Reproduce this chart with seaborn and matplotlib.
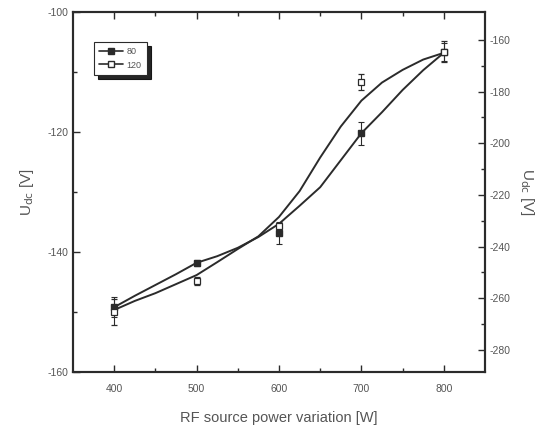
import numpy as np
import pandas as pd
import seaborn as sns
import matplotlib.pyplot as plt
from matplotlib.lines import Line2D

sns.set_theme(style="ticks")
plt.rcParams['font.family'] = ['Liberation Sans', 'DejaVu Sans']
plt.rcParams['axes.unicode_minus'] = False

# measured points
power = [400, 500, 600, 700, 800]
u80 = [-149.2, -141.8, -136.8, -120.2, -106.7]
u80_err = [1.7, 0.5, 1.8, 1.9, 1.5]
u120 = [-265.3, -253.3, -232.0, -176.3, -164.6]
u120_err = [5.0, 1.5, 1.0, 3.1, 4.0]

# fitted curves (every 25 W)
fit_power = [400, 425, 450, 475, 500, 525, 550, 575, 600,
             625, 650, 675, 700, 725, 750, 775, 800]
fit80 = [-149.2, -147.3, -145.5, -143.7, -141.8, -140.7, -139.3, -137.5,
         -135.3, -132.3, -129.2, -124.7, -120.2, -116.7, -113.0, -109.7,
         -106.8]
fit120 = [-264.5, -261.0, -258.0, -254.5, -251.0, -246.0, -240.9, -236.0,
          -228.5, -218.5, -205.5, -193.5, -183.5, -176.5, -171.6, -167.6,
          -165.0]

df_fit = pd.DataFrame({"power": fit_power, "fit80": fit80, "fit120": fit120})

ink = "#2b2b2b"
txt = "#555555"

fig = plt.figure(figsize=(5.42, 4.29), dpi=100)
ax = fig.add_axes([0.1347, 0.1329, 0.7601, 0.8391])
ax2 = ax.twinx()

sns.lineplot(data=df_fit, x="power", y="fit80", ax=ax, color=ink, lw=1.4)
sns.lineplot(data=df_fit, x="power", y="fit120", ax=ax2, color=ink, lw=1.4)

ax.errorbar(power, u80, yerr=u80_err, fmt="s", ms=4.5, color=ink,
            mfc=ink, capsize=2.5, elinewidth=0.8, capthick=0.8, zorder=5)
ax2.errorbar(power, u120, yerr=u120_err, fmt="s", ms=4.5, color=ink,
             mfc="white", mew=0.9, capsize=2.5, elinewidth=0.8,
             capthick=0.8, zorder=5)

ax.set_xlim(350, 850)
ax.set_ylim(-160, -100)
ax2.set_ylim(-288.5, -149.2)
ax.set_xticks([400, 500, 600, 700, 800])
ax.set_xticks([450, 550, 650, 750], minor=True)
ax.set_yticks([-160, -140, -120, -100])
ax.set_yticks([-150, -130, -110], minor=True)
ax2.set_yticks([-280, -260, -240, -220, -200, -180, -160])
ax2.set_yticks(np.arange(-270, -150, 20), minor=True)

for a in (ax, ax2):
    for s in a.spines.values():
        s.set_color(ink)
        s.set_linewidth(1.5)
    a.tick_params(which="both", direction="in", color=ink, labelcolor=txt,
                  labelsize=7.5, width=1.0)
    a.tick_params(which="major", length=5)
    a.tick_params(which="minor", length=3)
ax.tick_params(which="both", top=True)
ax.tick_params(axis="x", pad=9)

ax.set_xlabel("RF source power variation [W]", fontsize=10.5, color=txt,
              labelpad=12)
ax.set_ylabel(r"U$_{\rm dc}$ [V]", fontsize=11, color=txt, labelpad=8)
ax2.set_ylabel(r"U$_{\rm dc}$ [V]", fontsize=11, color=txt, rotation=270,
               labelpad=18)

handles = [
    Line2D([], [], color=ink, marker="s", ms=4, mfc=ink, lw=1.2),
    Line2D([], [], color=ink, marker="s", ms=4, mfc="white", lw=1.2),
]
leg = ax.legend(handles, ["80", "120"], loc="upper left",
                bbox_to_anchor=(0.04, 0.93), fontsize=6.5, frameon=True,
                fancybox=False,
                shadow={"color": "black", "alpha": 0.85, "ox": 3, "oy": -3},
                handlelength=2.6, borderpad=0.6, labelspacing=0.5,
                handletextpad=0.4)
leg.get_frame().set_edgecolor(ink)
leg.get_frame().set_linewidth(0.8)
for t in leg.get_texts():
    t.set_color(txt)

fig.savefig("out.png", dpi=100)
